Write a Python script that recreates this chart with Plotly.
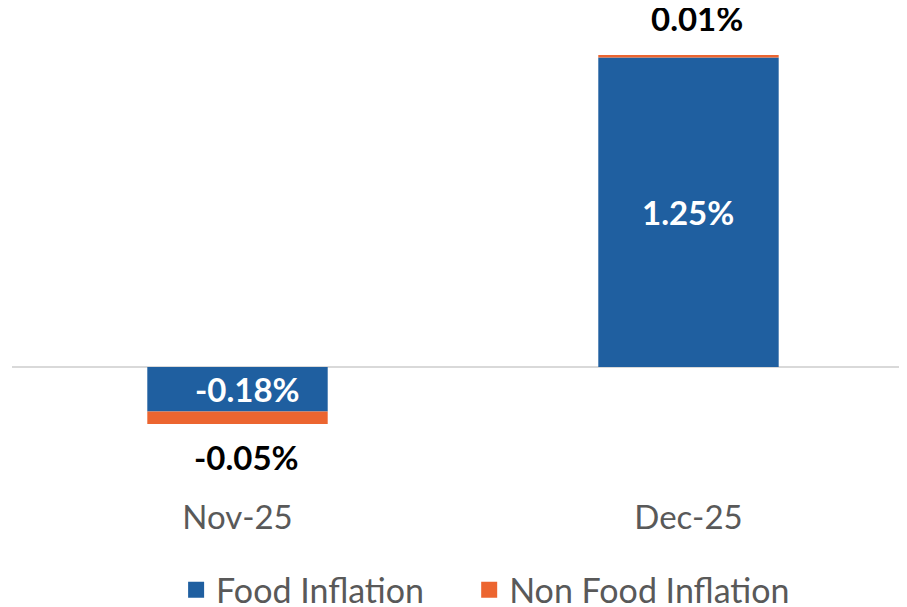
import plotly.graph_objects as go

categories = ["Nov-25", "Dec-25"]
food = [-0.18, 1.25]
non_food = [-0.05, 0.01]
series_names = ["Food Inflation", "Non Food Inflation"]

FOOD_COLOR = "#1F5FA0"
NONFOOD_COLOR = "#EC6530"
FONT = "Lato"

fig = go.Figure()
fig.add_trace(go.Bar(x=categories, y=food, name=series_names[0], showlegend=False,
                     marker=dict(color=FOOD_COLOR, line=dict(width=0))))
fig.add_trace(go.Bar(x=categories, y=non_food, name=series_names[1], showlegend=False,
                     marker=dict(color=NONFOOD_COLOR, line=dict(width=0))))
# legend entries with larger square symbols (one legend each for exact placement)
for name, col, lg in [(series_names[0], FOOD_COLOR, "legend"),
                      (series_names[1], NONFOOD_COLOR, "legend2")]:
    fig.add_trace(go.Scatter(x=[None], y=[None], mode="markers", name=name, legend=lg,
                             marker=dict(symbol="square", size=20, color=col)))

annotations = []
for c, f, n in zip(categories, food, non_food):
    annotations.append(dict(x=c, y=f / 2, text=f"{f:.2f}%", showarrow=False,
                            xshift=10 if f < 0 else 0,
                            font=dict(family=FONT, size=33, color="white", weight="bold")))
    total = f + n
    annotations.append(dict(x=c, y=total, text=f"{n:.2f}%", showarrow=False,
                            xshift=9,
                            yanchor="top" if total < 0 else "bottom",
                            yshift=-11 if total < 0 else 15,
                            font=dict(family=FONT, size=33, color="black", weight="bold")))

legend_common = dict(orientation="h", xref="container", yref="container",
                     xanchor="left", y=0.028, yanchor="middle",
                     font=dict(size=34, color="#595959"), itemwidth=30,
                     bgcolor="rgba(0,0,0,0)")

fig.update_layout(
    barmode="relative",
    bargap=0.6,
    width=899, height=599,
    margin=dict(l=4, r=0, t=0, b=112, autoexpand=False),
    plot_bgcolor="white", paper_bgcolor="white",
    font=dict(family=FONT, size=33, color="#595959"),
    xaxis=dict(range=[-0.5, 1.4845], showgrid=False, showline=False, ticks="",
               automargin=False, tickfont=dict(size=33, color="#595959")),
    yaxis=dict(range=[-0.517, 1.450], showgrid=False, showticklabels=False,
               automargin=False,
               zeroline=True, zerolinecolor="#D9D9D9", zerolinewidth=2),
    legend=dict(x=0.187, **legend_common),
    legend2=dict(x=0.513, **legend_common),
    annotations=annotations,
    showlegend=True,
)

fig.write_html("out.html")
